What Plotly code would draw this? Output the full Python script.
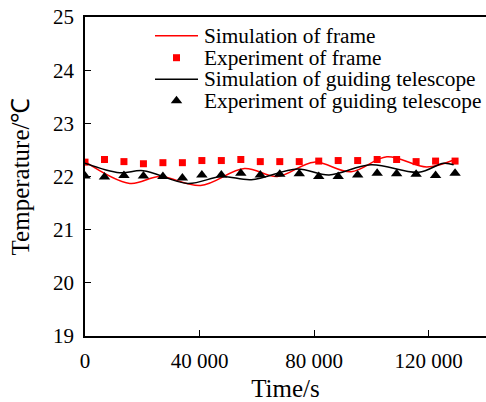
import plotly.graph_objects as go

# Experiment data (time in s, temperature in °C)
exp_time = [0, 6800, 13600, 20400, 27200, 34000, 40800, 47600, 54400, 61200,
            68000, 74800, 81600, 88400, 95200, 102000, 108800, 115600, 122400, 129200]
exp_frame = [22.27, 22.32, 22.28, 22.24, 22.26, 22.26, 22.30, 22.30, 22.32, 22.28,
             22.28, 22.28, 22.29, 22.30, 22.30, 22.32, 22.32, 22.28, 22.29, 22.29]
exp_tele = [22.01, 21.99, 22.02, 22.01, 22.00, 21.97, 22.03, 22.03, 22.06, 22.03,
            22.04, 22.05, 22.00, 22.00, 22.03, 22.06, 22.05, 22.04, 22.02, 22.06]

# Simulation curves (key points along the smooth curves)
sim_frame_t = [0, 15650, 26090, 40350, 55650, 67130, 80000, 92870, 105390, 119300, 128700]
sim_frame_v = [22.28, 21.87, 22.00, 21.83, 22.15, 22.00, 22.27, 22.09, 22.37, 22.18, 22.31]
sim_tele_t = [0, 12170, 20280, 35830, 47650, 58090, 74090, 85220, 99830, 116520, 125220, 128700]
sim_tele_v = [22.25, 22.07, 22.11, 21.87, 22.00, 21.94, 22.14, 22.03, 22.22, 22.08, 22.25, 22.22]

x_ticks = [0, 40000, 80000, 120000]
x_tick_text = ["0", "40 000", "80 000", "120 000"]
y_ticks = [19, 20, 21, 22, 23, 24, 25]

legend_labels = ["Simulation of frame", "Experiment of frame",
                 "Simulation of guiding telescope", "Experiment of guiding telescope"]

FONT = "Liberation Serif"
RED = "#ff0000"
BLACK = "#000000"

fig = go.Figure()
fig.add_trace(go.Scatter(x=sim_frame_t, y=sim_frame_v, mode="lines",
                         line=dict(color=RED, width=1.5, shape="spline", smoothing=1.0),
                         name=legend_labels[0], showlegend=False))
fig.add_trace(go.Scatter(x=exp_time, y=exp_frame, mode="markers",
                         marker=dict(symbol="square", color=RED, size=7),
                         name=legend_labels[1], showlegend=False))
fig.add_trace(go.Scatter(x=sim_tele_t, y=sim_tele_v, mode="lines",
                         line=dict(color=BLACK, width=1.5, shape="spline", smoothing=1.0),
                         name=legend_labels[2], showlegend=False))
fig.add_trace(go.Scatter(x=exp_time, y=exp_tele, mode="markers",
                         marker=dict(symbol="triangle-up", color=BLACK, size=10),
                         name=legend_labels[3], showlegend=False))

# Manual legend drawn on a hidden overlay axis measured in page pixels
leg_rows = [35.7, 57.7, 79.3, 100.7]
leg_x0, leg_x1, leg_tx = 155, 198, 203
leg_mid = (leg_x0 + leg_x1) / 2
fig.add_trace(go.Scatter(x=[leg_x0, leg_x1], y=[leg_rows[0]] * 2, mode="lines",
                         line=dict(color=RED, width=1.5), xaxis="x2", yaxis="y2",
                         showlegend=False, hoverinfo="skip"))
fig.add_trace(go.Scatter(x=[leg_mid], y=[leg_rows[1]], mode="markers",
                         marker=dict(symbol="square", color=RED, size=7), xaxis="x2", yaxis="y2",
                         showlegend=False, hoverinfo="skip"))
fig.add_trace(go.Scatter(x=[leg_x0, leg_x1], y=[leg_rows[2]] * 2, mode="lines",
                         line=dict(color=BLACK, width=1.5), xaxis="x2", yaxis="y2",
                         showlegend=False, hoverinfo="skip"))
fig.add_trace(go.Scatter(x=[leg_mid], y=[leg_rows[3]], mode="markers",
                         marker=dict(symbol="triangle-up", color=BLACK, size=10), xaxis="x2", yaxis="y2",
                         showlegend=False, hoverinfo="skip"))
for label, row in zip(legend_labels, leg_rows):
    fig.add_annotation(x=leg_tx, y=row, xref="x2", yref="y2", text=label, showarrow=False,
                       xanchor="left", yanchor="middle", borderpad=0,
                       font=dict(family=FONT, size=21.3, color="black"))

fig.update_layout(
    width=486, height=402,
    margin=dict(l=85, r=0, t=17, b=66, autoexpand=False),
    paper_bgcolor="white", plot_bgcolor="white",
    font=dict(family=FONT, size=21, color="black"),
    showlegend=False,
    xaxis=dict(range=[0, 140000], tickvals=x_ticks, ticktext=x_tick_text,
               showgrid=False, zeroline=False, showline=True, linecolor="black",
               linewidth=1.5, mirror=True, ticks="inside", ticklen=6, tickcolor="black",
               ticklabelstandoff=5, automargin=False, ticklabeloverflow="allow",
               title=dict(text="Time/s", standoff=12),
               tickfont=dict(family=FONT, size=21)),
    yaxis=dict(range=[19, 25], tickvals=y_ticks,
               showgrid=False, zeroline=False, showline=True, linecolor="black",
               linewidth=1.5, ticks="inside", ticklen=6, tickcolor="black",
               ticklabelstandoff=5, automargin=False, ticklabeloverflow="allow",
               title=dict(text="Temperature/℃", standoff=16),
               tickfont=dict(family=FONT, size=21)),
    xaxis2=dict(range=[85, 486], overlaying="x", visible=False, fixedrange=True),
    yaxis2=dict(range=[336, 17], overlaying="y", visible=False, fixedrange=True),
)

# remove the browser's default 8px page margin so the 486x402 figure fills the window
fig.write_html("out.html", config={"displayModeBar": False},
               post_script="document.body.style.margin='0';document.body.style.overflow='hidden';")
